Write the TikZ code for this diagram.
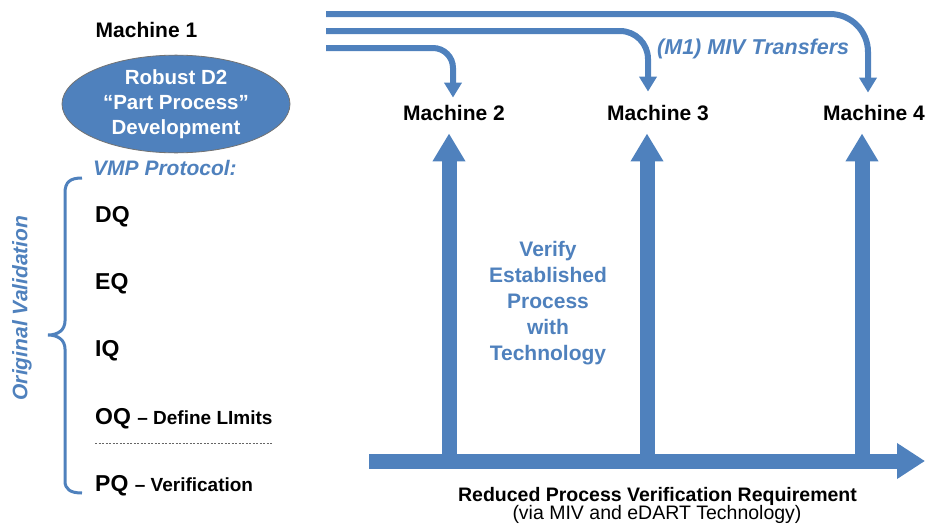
\documentclass[tikz,border=0pt]{standalone}
\usepackage{fontspec}
\setmainfont{Liberation Sans}
\usetikzlibrary{arrows.meta,shapes.geometric}
\definecolor{vblue}{RGB}{79,129,189}
\tikzset{
  machine/.style={font=\bfseries\fontsize{21}{25}\selectfont, inner sep=0pt, anchor=base},
  qual/.style={font=\bfseries\fontsize{23}{27}\selectfont, inner sep=0pt, anchor=base west},
  bluenote/.style={text=vblue, font=\bfseries\itshape\fontsize{21}{25}\selectfont, inner sep=0pt},
  transfer/.style={draw=vblue, line width=6pt, -{Triangle[width=17pt,length=15pt]}},
  upbar/.style={draw=vblue, line width=15pt, -{Triangle[width=31pt,length=28pt]}},
}

\begin{document}
\begin{tikzpicture}[x=1pt,y=-1pt]
    \useasboundingbox (0,0) rectangle (928,525);

    % Machine 1 and process development
    \node[machine] (m1) at (146.5,37) {Machine 1};
    \node[ellipse, fill=vblue, draw=black!55, line width=0.8pt, minimum width=228pt, minimum height=90pt,
          inner sep=0pt, text=white, align=center, font=\bfseries\fontsize{20.5}{25}\selectfont]
          (dev) at (176,104) {Robust D2\\“Part Process”\\Development};

    % VMP protocol steps
    \node[bluenote, anchor=base west] (vmp) at (93,175) {VMP Protocol:};
    \node[qual] (dq) at (95,222) {DQ};
    \node[qual] (eq) at (95,289) {EQ};
    \node[qual] (iq) at (95,356) {IQ};
    \node[qual] (oq) at (95,424) {OQ {\fontsize{19}{23}\selectfont -- Define LImits}};
    \node[qual] (pq) at (95,491) {PQ {\fontsize{19}{23}\selectfont -- Verification}};
    \draw[black!60, line width=0.5pt, dash pattern=on 2pt off 1.5pt] (95,443) -- (272,443);

    % Original validation brace
    \draw[vblue, line width=3pt] (82,178) .. controls (70,178) and (65,182) .. (65,193) -- (65,321)
          .. controls (65,330) and (58,335) .. (48,335) .. controls (58,335) and (65,340) .. (65,349)
          -- (65,481) .. controls (65,489) and (70,493) .. (82,493);
    \node[bluenote, rotate=90] (orig) at (22,308) {Original Validation};

    % Target machines
    \node[machine] (m2) at (454,120) {Machine 2};
    \node[machine] (m3) at (658,120) {Machine 3};
    \node[machine] (m4) at (874,120) {Machine 4};

    % MIV transfers
    \coordinate (s1) at (326,14);
    \coordinate (s2) at (326,31);
    \coordinate (s3) at (326,48);
    \draw[transfer, rounded corners=38pt, shorten >=12pt] (s1) -| ([xshift=-6pt]m4.north);
    \draw[transfer, rounded corners=28pt, shorten >=13pt] (s2) -| ([xshift=-10pt]m3.north);
    \draw[transfer, rounded corners=20pt, shorten >=7pt] (s3) -| ([xshift=-1pt]m2.north);
    \node[bluenote, anchor=base west, font=\bfseries\itshape\fontsize{21.5}{25}\selectfont] (miv) at (657,54) {(M1) MIV Transfers};

    % Verification bars
    \coordinate (ax0) at (369,461);
    \coordinate (ax1) at (925,461);
    \coordinate (b2) at (449,461);
    \coordinate (b3) at (647,461);
    \coordinate (b4) at (862,461);
    \draw[upbar, shorten >=13pt] (b2) -- (b2 |- m2.south);
    \draw[upbar, shorten >=13pt] (b3) -- (b3 |- m3.south);
    \draw[upbar, shorten >=13pt] (b4) -- (b4 |- m4.south);
    \draw[upbar, -{Triangle[width=34pt,length=28pt]}] (ax0) -- (ax1);

    \node[text=vblue, font=\bfseries\fontsize{21}{26}\selectfont, align=center, inner sep=0pt]
          (verify) at (548,303) {Verify\\Established\\Process\\with\\Technology};

    % Requirement
    \node[machine, font=\bfseries\fontsize{19.5}{23}\selectfont] (req) at (657.5,501) {Reduced Process Verification Requirement};
    \node[inner sep=0pt, anchor=base, font=\fontsize{19.5}{23}\selectfont] (via) at (657,519.5) {(via MIV and eDART Technology)};
\end{tikzpicture}
\end{document}
